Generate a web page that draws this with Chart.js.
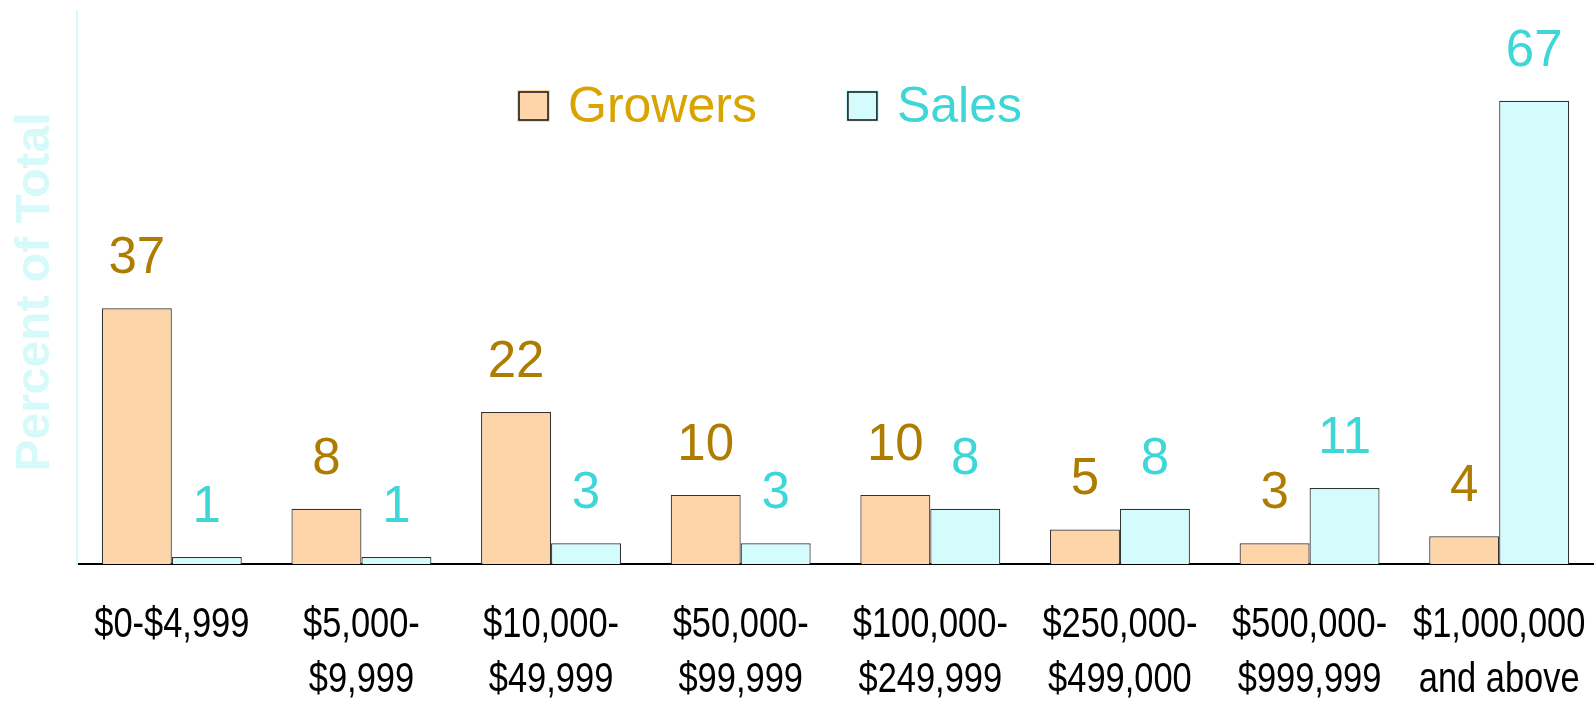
<!DOCTYPE html>
<html>
<head>
<meta charset="utf-8">
<script src="https://cdn.jsdelivr.net/npm/chart.js@4.4.0/dist/chart.umd.min.js"></script>
<style>
  html, body { margin: 0; padding: 0; background: #fff; }
</style>
</head>
<body>
<canvas id="grafico" width="1594" height="702"></canvas>
<script>
// Dados do gráfico
const faixas = [
  ['$0-$4,999'],
  ['$5,000-', '$9,999'],
  ['$10,000-', '$49,999'],
  ['$50,000-', '$99,999'],
  ['$100,000-', '$249,999'],
  ['$250,000-', '$499,000'],
  ['$500,000-', '$999,999'],
  ['$1,000,000', 'and above'],
];
const growers = [37, 8, 22, 10, 10, 5, 3, 4];
const sales = [1, 1, 3, 3, 8, 8, 11, 67];
const nomesSeries = ['Growers', 'Sales'];
const tituloY = 'Percent of Total';
const yMin = 0;
const yMax = 80;

// Cores
const corGrowers = '#FDD5A9';
const corSales = '#D5FCFC';
const corRotuloGrowers = '#AE7C00';
const corLegendaGrowers = '#D9A300';
const corSalesTexto = '#3ED6D6';

const fonteBase = '"Liberation Sans", Arial, sans-serif';

// Rótulos, legenda, categorias e título do eixo desenhados à mão
const extras = {
  id: 'extras',
  afterDatasetsDraw(chart) {
    const ctx = chart.ctx;
    ctx.save();

    // valores acima das barras
    ctx.font = '51px ' + fonteBase;
    ctx.textAlign = 'center';
    ctx.textBaseline = 'alphabetic';
    chart.data.datasets.forEach((ds, i) => {
      ctx.fillStyle = i === 0 ? corRotuloGrowers : corSalesTexto;
      chart.getDatasetMeta(i).data.forEach((bar, j) => {
        ctx.fillText(ds.data[j], bar.x, bar.y - 35);
      });
    });

    // categorias do eixo x (fonte estreita simulada)
    const xs = chart.scales.x;
    ctx.font = '42px ' + fonteBase;
    ctx.fillStyle = '#000';
    chart.data.labels.forEach((linhas, i) => {
      const px = xs.getPixelForValue(i);
      linhas.forEach((txt, k) => {
        ctx.save();
        ctx.translate(px, 637 + k * 55);
        ctx.scale(0.82, 1);
        ctx.fillText(txt, 0, 0);
        ctx.restore();
      });
    });

    // legenda
    ctx.font = '50px ' + fonteBase;
    ctx.textAlign = 'left';
    ctx.textBaseline = 'middle';
    let x = 517;
    const yLeg = 106;
    chart.data.datasets.forEach((ds, i) => {
      ctx.fillStyle = ds.backgroundColor;
      ctx.fillRect(x, yLeg - 16, 33, 32);
      ctx.strokeStyle = '#111';
      ctx.lineWidth = 1.5;
      ctx.strokeRect(x + 2, yLeg - 14, 29, 28);
      ctx.fillStyle = i === 0 ? corLegendaGrowers : corSalesTexto;
      ctx.fillText(ds.label, x + 51, yLeg + 2);
      x += 51 + ctx.measureText(ds.label).width + 89;
    });

    // título do eixo y
    ctx.translate(36, 292);
    ctx.rotate(-Math.PI / 2);
    ctx.font = 'bold 48px ' + fonteBase;
    ctx.textAlign = 'center';
    ctx.fillStyle = '#D6FAFA';
    ctx.fillText(tituloY, 0, 0);

    ctx.restore();
  }
};

const ctx = document.getElementById('grafico').getContext('2d');
new Chart(ctx, {
  type: 'bar',
  data: {
    labels: faixas,
    datasets: [
      {
        label: nomesSeries[0],
        data: growers,
        backgroundColor: corGrowers,
        borderColor: '#333',
        borderWidth: 1.2,
      },
      {
        label: nomesSeries[1],
        data: sales,
        backgroundColor: corSales,
        borderColor: '#333',
        borderWidth: 1.2,
      },
    ]
  },
  options: {
    responsive: false,
    animation: false,
    layout: { padding: { left: 69, top: 11, right: 0, bottom: 0 } },
    datasets: {
      bar: { categoryPercentage: 0.738, barPercentage: 1 }
    },
    plugins: {
      legend: { display: false },
      tooltip: { enabled: false },
    },
    scales: {
      x: {
        grid: { display: false },
        border: { display: true, color: '#000', width: 2 },
        ticks: { display: false },
        afterFit: s => { s.height = 138; },
      },
      y: {
        min: yMin,
        max: yMax,
        grid: { display: false },
        border: { display: true, color: '#D8FAFA', width: 2 },
        ticks: { display: false },
      },
    },
  },
  plugins: [extras],
});
</script>
</body>
</html>
